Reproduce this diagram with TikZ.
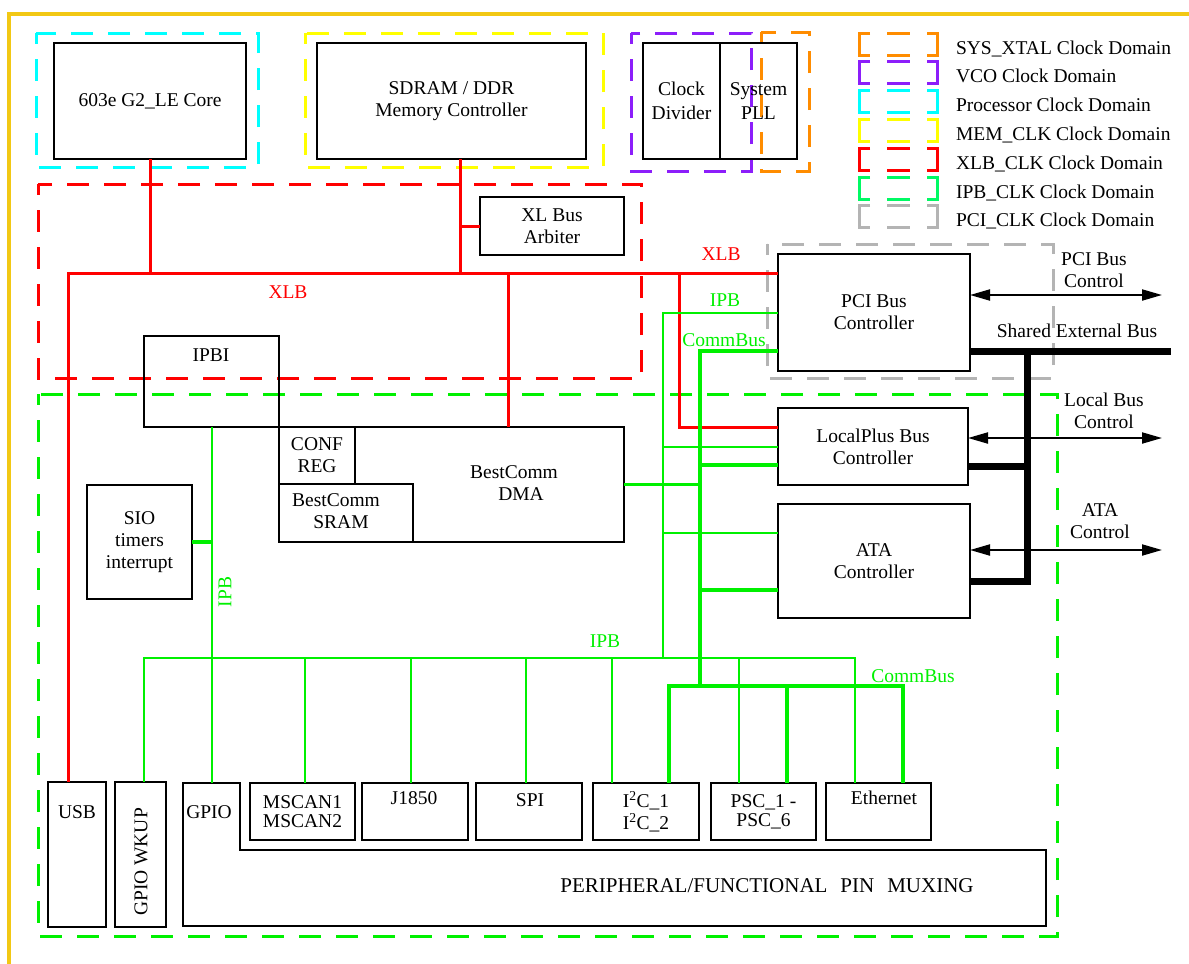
\documentclass[tikz,border=0pt]{standalone}
\usepackage{fontspec}
\setmainfont{Liberation Serif}
\usetikzlibrary{arrows.meta}
\definecolor{gold}{RGB}{242,200,20}
\definecolor{dorange}{RGB}{255,140,0}
\definecolor{dpurple}{RGB}{140,30,250}
\definecolor{dcyan}{RGB}{0,255,255}
\definecolor{dyellow}{RGB}{255,255,0}
\definecolor{dred}{RGB}{255,0,0}
\definecolor{dgreen}{RGB}{0,240,0}
\definecolor{lgreen}{RGB}{0,250,100}
\definecolor{dgray}{RGB}{180,180,180}
\definecolor{bus}{RGB}{0,240,0}
\begin{document}
\begin{tikzpicture}[x=1pt,y=-1pt,
  every node/.style={font=\fontsize{19.5}{22}\selectfont, inner sep=0pt, outer sep=0pt},
  blk/.style={draw, line width=2pt, anchor=north west, align=center},
  dom/.style={line width=3pt, dash pattern=on 22pt off 15pt, dash phase=11pt},
  xlb/.style={draw=dred, line width=3pt},
  ipb/.style={draw=bus, line width=2pt},
  cbus/.style={draw=bus, line width=3.5pt},
  ext/.style={line width=7pt},
  ctl/.style={line width=2pt, {Triangle[length=20pt,width=11pt]}-{Triangle[length=20pt,width=11pt]}},
  lbl/.style={align=center},
]
\useasboundingbox (0,0) rectangle (1189,964);
% frame
\draw[gold, line width=4.5pt] (9,966) -- (9,14) -- (1191,14);

% clock domains
\draw[dom, dcyan]   (36,33) rectangle (258,167);
\draw[dom, dyellow] (305,33) rectangle (603,167);
\draw[dom, dpurple] (631,33) rectangle (751,171);
\draw[dom, dorange] (761,32) rectangle (809,171);
\draw[dom, dred]    (38,184) rectangle (641,378);
\draw[dom, dgreen]  (38,394) rectangle (1057,936);
\draw[dom, dgray]   (767,244) rectangle (1053,378);

% legend
\foreach \col/\name [count=\i from 0] in {
  dorange/{SYS\_XTAL Clock Domain},
  dpurple/{VCO Clock Domain},
  dcyan/{Processor Clock Domain},
  dyellow/{MEM\_CLK Clock Domain},
  dred/{XLB\_CLK Clock Domain},
  lgreen/{IPB\_CLK Clock Domain},
  dgray/{PCI\_CLK Clock Domain}} {
  \pgfmathsetmacro\yt{33+28.8*\i}
  \pgfmathsetmacro\yb{\yt+22}
  \draw[\col, line width=3pt] (870,\yt) -- (859,\yt) -- (859,\yb) -- (870,\yb)
     (887,\yt) -- (910,\yt) (887,\yb) -- (910,\yb)
     (927,\yt) -- (937,\yt) -- (937,\yb) -- (927,\yb);
  \node[anchor=base west] (leg\i) at (956,\yt+21) {\name};
}

% blocks
\node[blk, minimum width=192pt, minimum height=116pt] (core) at (54,43) {603e G2\_LE Core};
\node[blk, minimum width=269pt, minimum height=116pt] (sdram) at (317,43) {SDRAM / DDR\\Memory Controller};
\node[blk, minimum width=77pt, minimum height=116pt] (clkdiv) at (643,43) {Clock\\[2pt]Divider};
\node[blk, minimum width=77pt, minimum height=116pt] (pll) at (720,43) {System\\[2pt]PLL};
\node[blk, minimum width=144pt, minimum height=58pt] (arb) at (480,197) {XL Bus\\Arbiter};
\node[blk, minimum width=192pt, minimum height=117pt] (pci) at (778,254) {PCI Bus\\Controller};
\node[blk, minimum width=190pt, minimum height=77pt] (lpb) at (778,408) {LocalPlus Bus\\Controller};
\node[blk, minimum width=192pt, minimum height=114pt] (ata) at (778,504) {ATA\\Controller};

\node[blk, minimum width=135pt, minimum height=91pt] (ipbi) at (144,336) {};
\node (ipbitxt) at (211,355) {IPBI};
\node[blk, minimum width=345pt, minimum height=115pt] (dma) at (279,427) {};
\node[lbl] (dmatxt) at (514,483) {BestComm\\\hspace*{14pt}DMA};
\node[blk, minimum width=76pt, minimum height=57pt] (conf) at (279,427) {CONF\\REG};
\node[blk, minimum width=134pt, minimum height=58pt] (sram) at (279,484) {};
\node[lbl] (sramtxt) at (336,511) {BestComm\\\hspace*{10pt}SRAM};
\node[blk, minimum width=105pt, minimum height=114pt] (sio) at (87,485) {SIO\\timers\\interrupt};

\node[blk, minimum width=58pt, minimum height=145pt] (usb) at (48,782) {};
\node (usbtxt) at (77,812) {USB};
\node[blk, minimum width=51pt, minimum height=145pt] (wkup) at (115,782) {};
\node[rotate=90] (wkuptxt) at (141,862) {GPIO WKUP};
\draw[line width=2pt] (183,783) -- (240,783) -- (240,850) -- (1046,850) -- (1046,926) -- (183,926) -- cycle;
\coordinate (gpioTop) at (211,783);
\node (gpiotxt) at (209,812) {GPIO};
\node[font=\fontsize{21}{22}\selectfont] (mux) at (767,886) {PERIPHERAL/FUNCTIONAL\hspace{13pt}PIN\hspace{13pt}MUXING};
\node[blk, minimum width=105pt, minimum height=57pt, font=\fontsize{19.5}{19}\selectfont] (mscan) at (250,783) {MSCAN1\\MSCAN2};
\node[blk, minimum width=106pt, minimum height=57pt] (j1850) at (362,783) {};
\node (j1850txt) at (414,798) {J1850};
\node[blk, minimum width=106pt, minimum height=57pt] (spi) at (476,783) {};
\node (spitxt) at (530,800) {SPI};
\node[blk, minimum width=106pt, minimum height=57pt] (i2c) at (593,783) {I\textsuperscript{2}C\_1\\I\textsuperscript{2}C\_2};
\node[blk, minimum width=105pt, minimum height=57pt, font=\fontsize{19.5}{19}\selectfont] (psc) at (711,783) {PSC\_1 -\\PSC\_6};
\node[blk, minimum width=105pt, minimum height=57pt] (eth) at (826,783) {};
\node (ethtxt) at (884,798) {Ethernet};

% XLB bus
\coordinate (xlbL) at (68,273);
\coordinate (sdL) at (460,273);
\coordinate (dmaL) at (508,273);
\coordinate (lpL) at (679,273);
\draw[xlb] (xlbL |- usb.north) -- (xlbL) -- (xlbL -| pci.west);
\draw[xlb] (core.south) -- (core.south |- xlbL);
\draw[xlb] (sdL |- sdram.south) -- (sdL);
\draw[xlb] (arb.west) -- (arb.west -| sdL);
\draw[xlb] (dmaL) -- (dmaL |- dma.north);
\draw[xlb] (lpL) -- (679,427) -- (lpb.west |- 0,427);
\node[text=dred] (xlb1) at (288,292) {XLB};
\node[text=dred] (xlb2) at (721,254) {XLB};

% IPB / CommBus
\coordinate (ipbT) at (663,313);
\coordinate (cbT) at (700,351);
\coordinate (ipbB) at (663,658);
\coordinate (cbB) at (700,686);
\coordinate (ipbBusL) at (144,658);
\coordinate (ipbBusR) at (855,658);
\coordinate (cbBusL) at (669,686);
\coordinate (cbBusR) at (903,686);
\draw[ipb] (ipbT -| pci.west) -- (ipbT) -- (ipbB);
\draw[cbus] (cbT -| pci.west) -- (cbT) -- (cbB);
\draw[ipb] (663,447) -- (lpb.west |- 0,447);
\draw[cbus] (700,465) -- (lpb.west |- 0,465);
\draw[cbus] (dma.east) -- (dma.east -| 702,0);
\draw[ipb] (663,533) -- (ata.west |- 0,533);
\draw[cbus] (700,590) -- (ata.west |- 0,590);
\draw[ipb] (ipbi.south) -- (ipbi.south |- gpioTop);
\draw[cbus] (sio.east) -- (sio.east -| 213,0);
\draw[ipb] (ipbBusL |- wkup.north) -- (ipbBusL) -- (ipbBusR) -- (ipbBusR |- eth.north);
\draw[ipb] (305,658) -- (305,0 |- mscan.north);
\draw[ipb] (411,658) -- (411,0 |- j1850.north);
\draw[ipb] (526,658) -- (526,0 |- spi.north);
\draw[ipb] (612,658) -- (612,0 |- i2c.north);
\draw[ipb] (739,658) -- (739,0 |- psc.north);
\draw[cbus] (cbBusL |- i2c.north) -- (cbBusL) -- (cbBusR) -- (cbBusR |- eth.north);
\draw[cbus] (787,686) -- (787,0 |- psc.north);
\node[text=bus] (ipbl1) at (725,300) {IPB};
\node[text=bus] (cbl1) at (724,340) {CommBus};
\node[text=bus] (ipbl2) at (605,641) {IPB};
\node[text=bus] (cbl2) at (913,676) {CommBus};
\node[text=bus, rotate=90] (ipbl3) at (225,592) {IPB};

% external bus
\draw[ext] (pci.east |- 0,351) -- (1171,351);
\draw[ext] (lpb.east |- 0,466) -- (1027,466);
\draw[ext] (ata.east |- 0,581) -- (1027,581) -- (1027,347.5);
\node (shared) at (1077,331) {Shared External Bus};

\draw[ctl] (pci.east |- 0,295) -- (1162,295);
\draw[ctl] (lpb.east |- 0,438) -- (1162,438);
\draw[ctl] (ata.east |- 0,550) -- (1162,550);
\node[lbl] (pcictl) at (1094,270) {PCI Bus\\Control};
\node[lbl] (lbctl) at (1104,411) {Local Bus\\Control};
\node[lbl] (atactl) at (1100,521) {ATA\\Control};
\end{tikzpicture}
\end{document}
